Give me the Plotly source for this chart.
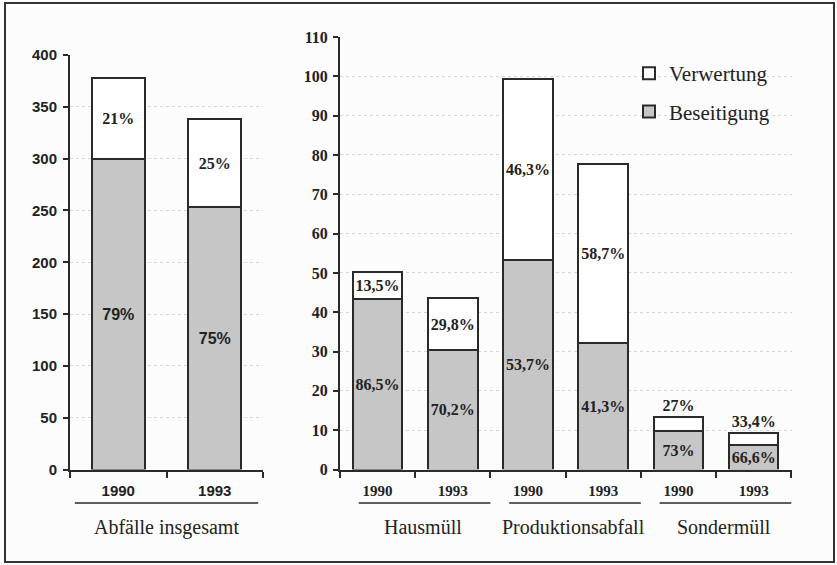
import plotly.graph_objects as go

# ---- data ----
left_years = ["1990", "1993"]
left_beseitigung = [300, 253]
left_verwertung = [78, 85]
left_bes_pct = ["79%", "75%"]
left_ver_pct = ["21%", "25%"]

groups = ["Hausmüll", "Produktionsabfall", "Sondermüll"]
right_groups = ["Hausmüll", "Hausmüll", "Produktionsabfall", "Produktionsabfall", "Sondermüll", "Sondermüll"]
right_years = ["1990", "1993", "1990", "1993", "1990", "1993"]
right_beseitigung = [43.4, 30.5, 53.3, 32.1, 9.7, 6.2]
right_verwertung = [6.8, 13.0, 45.9, 45.7, 3.6, 3.1]
right_bes_pct = ["86,5%", "70,2%", "53,7%", "41,3%", "73%", "66,6%"]
right_ver_pct = ["13,5%", "29,8%", "46,3%", "58,7%", "27%", "33,4%"]

left_title = "Abfälle insgesamt"
legend_names = ["Verwertung", "Beseitigung"]

# ---- styles ----
SERIF = "Liberation Serif"
SANS = "Liberation Sans"
GRAY = "#c6c6c6"
EDGE = "#2a2a2a"
TXT = "#222222"
W, H = 837, 565

right_cats = [g + " " + y for g, y in zip(right_groups, right_years)]

fig = go.Figure()

bar_text = dict(insidetextanchor="middle", constraintext="none", textangle=0)

# left subplot
fig.add_trace(go.Bar(
    x=left_years, y=left_beseitigung, name=legend_names[1], width=0.55,
    marker=dict(color=GRAY, line=dict(color=EDGE, width=2)),
    text=left_bes_pct, textposition="inside",
    insidetextfont=dict(family=SANS, size=16, color=TXT, weight="bold"),
    xaxis="x", yaxis="y", showlegend=False, hoverinfo="skip", **bar_text))
fig.add_trace(go.Bar(
    x=left_years, y=left_verwertung, name=legend_names[0], width=0.55,
    marker=dict(color="white", line=dict(color=EDGE, width=2)),
    text=left_ver_pct, textposition="inside",
    insidetextfont=dict(family=SERIF, size=16, color=TXT, weight="bold"),
    xaxis="x", yaxis="y", showlegend=False, hoverinfo="skip", **bar_text))

# right subplot
fig.add_trace(go.Bar(
    x=right_cats, y=right_beseitigung, name=legend_names[1], width=0.66,
    marker=dict(color=GRAY, line=dict(color=EDGE, width=2)),
    text=right_bes_pct, textposition="inside",
    insidetextfont=dict(family=SERIF, size=16, color=TXT, weight="bold"),
    xaxis="x2", yaxis="y2", legendgroup="b", legendrank=2, hoverinfo="skip", **bar_text))
ver_pos = ["outside" if v < 5 else "inside" for v in right_verwertung]
fig.add_trace(go.Bar(
    x=right_cats, y=right_verwertung, name=legend_names[0], width=0.66,
    marker=dict(color="white", line=dict(color=EDGE, width=2)),
    text=right_ver_pct, textposition=ver_pos, cliponaxis=False,
    insidetextfont=dict(family=SERIF, size=16, color=TXT, weight="bold"),
    outsidetextfont=dict(family=SERIF, size=16, color=TXT, weight="bold"),
    xaxis="x2", yaxis="y2", legendgroup="a", legendrank=1, hoverinfo="skip", **bar_text))

axis_common = dict(showline=True, linecolor=EDGE, linewidth=2, ticks="outside",
                   tickcolor=EDGE, tickwidth=2, zeroline=False, fixedrange=True)

yb = 1 - 469.5 / H
fig.update_layout(
    width=W, height=H,
    barmode="stack",
    paper_bgcolor="#fcfcfc", plot_bgcolor="rgba(0,0,0,0)",
    margin=dict(l=0, r=0, t=0, b=0, autoexpand=False),
    xaxis=dict(domain=[70 / W, 263 / W], anchor="y", type="category",
               tickson="boundaries", ticklen=6, ticklabelstandoff=6, showgrid=False,
               tickfont=dict(family=SANS, size=15, color=TXT, weight="bold"), **axis_common),
    yaxis=dict(domain=[yb, 1 - 55 / H], anchor="x", range=[0, 400], dtick=50,
               ticklen=5, ticklabelstandoff=3, showgrid=True, gridcolor="#d6d6d6",
               griddash="dot", gridwidth=1,
               tickfont=dict(family=SANS, size=15, color=TXT, weight="bold"), **axis_common),
    xaxis2=dict(domain=[340 / W, 792 / W], anchor="y2", type="category",
                tickmode="array", tickvals=right_cats, ticktext=right_years,
                tickson="boundaries", ticklen=6, ticklabelstandoff=6, showgrid=False,
                tickfont=dict(family=SERIF, size=15, color=TXT, weight="bold"), **axis_common),
    yaxis2=dict(domain=[yb, 1 - 37 / H], anchor="x2", range=[0, 110], dtick=10,
                ticklen=5, ticklabelstandoff=2, showgrid=True, gridcolor="#d6d6d6",
                griddash="dot", gridwidth=1,
                tickfont=dict(family=SERIF, size=16, color=TXT, weight="bold"), **axis_common),
    legend=dict(x=629 / W, y=1 - 53 / H, xanchor="left", yanchor="top",
                traceorder="grouped", tracegroupgap=8, bgcolor="rgba(0,0,0,0)",
                font=dict(family=SERIF, size=21, color=TXT)),
    showlegend=True,
)

# group underlines and labels
uy = 1 - 503 / H
ly = 1 - 527 / H
fig.add_shape(type="line", xref="x", yref="paper", x0=-0.45, x1=1.45, y0=uy, y1=uy,
              line=dict(color=EDGE, width=1.5))
fig.add_annotation(xref="x", yref="paper", x=0.5, y=ly, yanchor="middle", text=left_title,
                   showarrow=False, font=dict(family=SERIF, size=20, color=TXT))
for gi, g in enumerate(groups):
    idx = [i for i, rg in enumerate(right_groups) if rg == g]
    fig.add_shape(type="line", xref="x2", yref="paper", x0=idx[0] - 0.25, x1=idx[-1] + 0.5,
                  y0=uy, y1=uy, line=dict(color=EDGE, width=1.5))
    fig.add_annotation(xref="x2", yref="paper", x=(idx[0] + idx[-1]) / 2 + 0.1, y=ly,
                       yanchor="middle", text=g, showarrow=False,
                       font=dict(family=SERIF, size=20, color=TXT))

# outer frame
fig.add_shape(type="rect", xref="paper", yref="paper", x0=5 / W, x1=834 / W, y0=1 - 562 / H,
              y1=1 - 3 / H, line=dict(color="#333333", width=2))

fig.write_html("out.html", config={"displayModeBar": False},
               post_script="document.body.style.margin='0px';document.body.style.overflow='hidden';")
